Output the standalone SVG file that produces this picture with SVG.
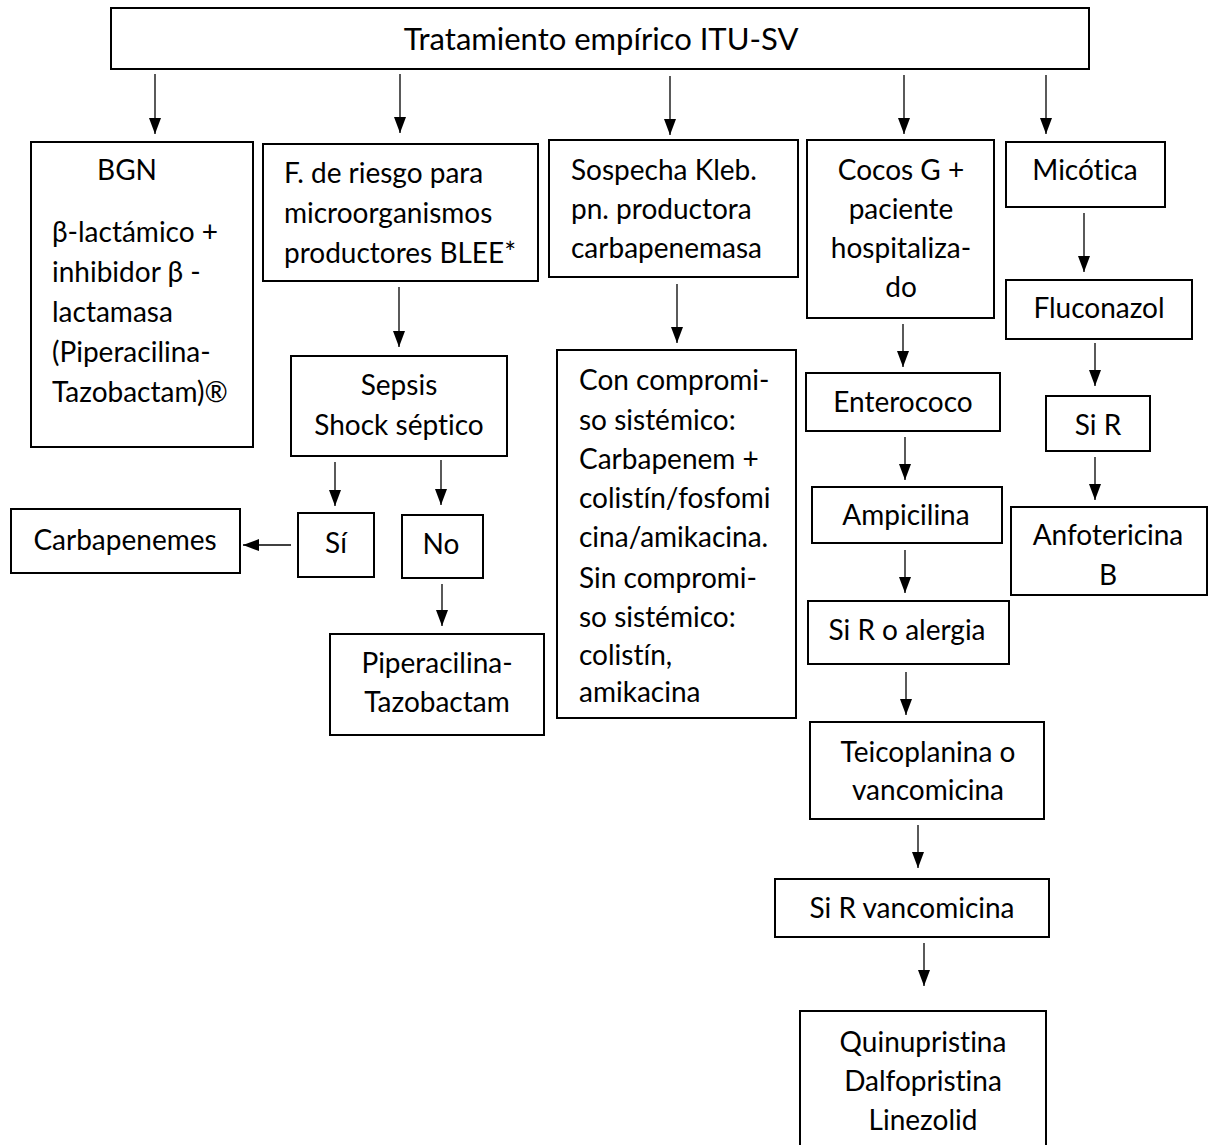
<svg xmlns="http://www.w3.org/2000/svg" width="1210" height="1145" viewBox="0 0 1210 1145">
<style>
.b{fill:#fff;stroke:#000;stroke-width:2}
.t{font-family:Lato,"Open Sans","Liberation Sans",sans-serif;font-size:28px;fill:#000;font-variant-ligatures:none}
.c{text-anchor:middle}
.l{fill:none;stroke:#000;stroke-width:1.3}
</style>
<defs>
<marker id="ah" viewBox="0 0 16 12" refX="16" refY="6" markerWidth="16" markerHeight="12" markerUnits="userSpaceOnUse" orient="auto"><path d="M0,0 L16,6 L0,12 z" fill="#000"/></marker>
</defs>
<rect width="1210" height="1145" fill="#fff"/>
<g id="connectors">
<line class="l" x1="155" y1="74" x2="155" y2="134" marker-end="url(#ah)"/>
<line class="l" x1="400" y1="74" x2="400" y2="133" marker-end="url(#ah)"/>
<line class="l" x1="670" y1="76" x2="670" y2="135" marker-end="url(#ah)"/>
<line class="l" x1="904" y1="75" x2="904" y2="134" marker-end="url(#ah)"/>
<line class="l" x1="1046" y1="75" x2="1046" y2="134" marker-end="url(#ah)"/>
<line class="l" x1="399" y1="287" x2="399" y2="347" marker-end="url(#ah)"/>
<line class="l" x1="335" y1="462" x2="335" y2="506" marker-end="url(#ah)"/>
<line class="l" x1="441" y1="460" x2="441" y2="505" marker-end="url(#ah)"/>
<line class="l" x1="291" y1="545" x2="243" y2="545" marker-end="url(#ah)"/>
<line class="l" x1="442" y1="584" x2="442" y2="626" marker-end="url(#ah)"/>
<line class="l" x1="677" y1="284" x2="677" y2="343" marker-end="url(#ah)"/>
<line class="l" x1="903" y1="324" x2="903" y2="367" marker-end="url(#ah)"/>
<line class="l" x1="905" y1="437" x2="905" y2="480" marker-end="url(#ah)"/>
<line class="l" x1="905" y1="550" x2="905" y2="593" marker-end="url(#ah)"/>
<line class="l" x1="906" y1="672" x2="906" y2="715" marker-end="url(#ah)"/>
<line class="l" x1="918" y1="825" x2="918" y2="868" marker-end="url(#ah)"/>
<line class="l" x1="924" y1="943" x2="924" y2="986" marker-end="url(#ah)"/>
<line class="l" x1="1084" y1="213" x2="1084" y2="272" marker-end="url(#ah)"/>
<line class="l" x1="1095" y1="343" x2="1095" y2="386" marker-end="url(#ah)"/>
<line class="l" x1="1095" y1="457" x2="1095" y2="500" marker-end="url(#ah)"/>
</g>
<g id="n-top"><rect class="b" x="111" y="8" width="978" height="61"/><text class="t c" x="601" y="50" style="font-size:31px">Tratamiento empírico ITU-SV</text></g>
<g id="n-bgn"><rect class="b" x="31" y="142" width="222" height="305"/>
<text class="t c" x="127" y="180">BGN</text>
<text class="t" x="52" y="242">β-lactámico +</text>
<text class="t" x="52" y="282">inhibidor β -</text>
<text class="t" x="52" y="322">lactamasa</text>
<text class="t" x="52" y="362">(Piperacilina-</text>
<text class="t" x="52" y="402">Tazobactam)®</text></g>
<g id="n-riesgo"><rect class="b" x="263" y="144" width="275" height="137"/>
<text class="t" x="284" y="183">F. de riesgo para</text>
<text class="t" x="284" y="223">microorganismos</text>
<text class="t" x="284" y="263">productores BLEE*</text></g>
<g id="n-sepsis"><rect class="b" x="291" y="356" width="216" height="100"/>
<text class="t c" x="399" y="395">Sepsis</text>
<text class="t c" x="399" y="435">Shock séptico</text></g>
<g id="n-si"><rect class="b" x="298" y="513" width="76" height="64"/><text class="t c" x="336" y="553">Sí</text></g>
<g id="n-no"><rect class="b" x="402" y="515" width="81" height="63"/><text class="t c" x="441" y="554">No</text></g>
<g id="n-carba"><rect class="b" x="11" y="509" width="229" height="64"/><text class="t c" x="125" y="550">Carbapenemes</text></g>
<g id="n-pipe"><rect class="b" x="330" y="634" width="214" height="101"/>
<text class="t c" x="437" y="673">Piperacilina-</text>
<text class="t c" x="437" y="712">Tazobactam</text></g>
<g id="n-kleb"><rect class="b" x="549" y="140" width="249" height="137"/>
<text class="t" x="571" y="180">Sospecha Kleb.</text>
<text class="t" x="571" y="219">pn. productora</text>
<text class="t" x="571" y="258">carbapenemasa</text></g>
<g id="n-con"><rect class="b" x="557" y="350" width="239" height="368"/>
<text class="t" x="579" y="390">Con compromi-</text>
<text class="t" x="579" y="430">so sistémico:</text>
<text class="t" x="579" y="469">Carbapenem +</text>
<text class="t" x="579" y="508">colistín/fosfomi</text>
<text class="t" x="579" y="547">cina/amikacina.</text>
<text class="t" x="579" y="588">Sin compromi-</text>
<text class="t" x="579" y="627">so sistémico:</text>
<text class="t" x="579" y="665">colistín,</text>
<text class="t" x="579" y="702">amikacina</text></g>
<g id="n-cocos"><rect class="b" x="807" y="140" width="187" height="178"/>
<text class="t c" x="901" y="180">Cocos G +</text>
<text class="t c" x="901" y="219">paciente</text>
<text class="t c" x="901" y="258">hospitaliza-</text>
<text class="t c" x="901" y="297">do</text></g>
<g id="n-entero"><rect class="b" x="806" y="373" width="194" height="58"/><text class="t c" x="903" y="412">Enterococo</text></g>
<g id="n-ampi"><rect class="b" x="812" y="487" width="190" height="56"/><text class="t c" x="906" y="525">Ampicilina</text></g>
<g id="n-alergia"><rect class="b" x="808" y="601" width="201" height="63"/><text class="t c" x="907" y="640">Si R o alergia</text></g>
<g id="n-teico"><rect class="b" x="810" y="722" width="234" height="97"/>
<text class="t c" x="928" y="762">Teicoplanina o</text>
<text class="t c" x="928" y="800">vancomicina</text></g>
<g id="n-sirv"><rect class="b" x="775" y="879" width="274" height="58"/><text class="t c" x="912" y="918">Si R vancomicina</text></g>
<g id="n-quinu"><rect class="b" x="800" y="1011" width="246" height="150"/>
<text class="t c" x="923" y="1052">Quinupristina</text>
<text class="t c" x="923" y="1091">Dalfopristina</text>
<text class="t c" x="923" y="1130">Linezolid</text></g>
<g id="n-mico"><rect class="b" x="1006" y="142" width="159" height="65"/><text class="t c" x="1085" y="180">Micótica</text></g>
<g id="n-fluco"><rect class="b" x="1006" y="280" width="186" height="59"/><text class="t c" x="1099" y="318">Fluconazol</text></g>
<g id="n-sir"><rect class="b" x="1046" y="396" width="104" height="55"/><text class="t c" x="1098" y="435">Si R</text></g>
<g id="n-anfo"><rect class="b" x="1011" y="507" width="196" height="88"/>
<text class="t c" x="1108" y="545">Anfotericina</text>
<text class="t c" x="1108" y="585">B</text></g>
</svg>
